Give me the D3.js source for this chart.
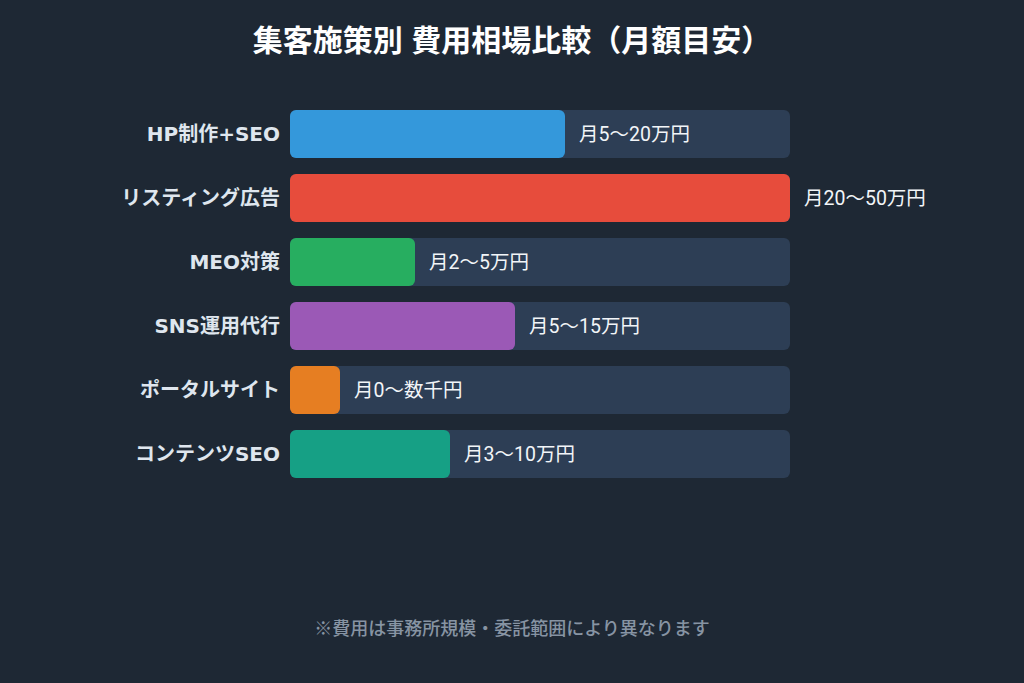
<!DOCTYPE html>
<html><head><meta charset="utf-8">
<script src="https://cdn.jsdelivr.net/npm/d3@7"></script>
<style>
html,body{margin:0;padding:0;background:#1e2834;}
svg{display:block;font-family:"Liberation Sans","Noto Sans CJK JP",sans-serif;}
</style></head><body>
<svg id="c" width="1024" height="683"></svg>
<script>
const categories = ["HP制作+SEO","リスティング広告","MEO対策","SNS運用代行","ポータルサイト","コンテンツSEO"];
const values = [55, 100, 25, 45, 10, 32];
const valueLabels = ["月5〜20万円","月20〜50万円","月2〜5万円","月5〜15万円","月0〜数千円","月3〜10万円"];
const colors = ["#3498db","#e74c3c","#27ae60","#9b59b6","#e67e22","#16a085"];
const title = "集客施策別 費用相場比較（月額目安）";
const note = "※費用は事務所規模・委託範囲により異なります";

const svg = d3.select("#c");
svg.append("rect").attr("width",1024).attr("height",683).attr("fill","#1e2834");

const x = d3.scaleLinear().domain([0,100]).range([290,790]);
const y = d3.scaleBand().domain(categories).range([102,486]).paddingInner(0.25).paddingOuter(0.125);

svg.append("text").attr("x",512).attr("y",51).attr("text-anchor","middle")
  .attr("fill","#ffffff").attr("font-size",30).attr("font-weight",700).text(title);

const rows = svg.append("g").selectAll("g.row").data(categories).join("g").attr("class","row");

rows.append("rect").attr("x",x(0)).attr("y",d=>y(d)).attr("width",x(100)-x(0))
  .attr("height",y.bandwidth()).attr("rx",6).attr("fill","#2d3e55");
rows.append("rect").attr("x",x(0)).attr("y",d=>y(d)).attr("width",(d,i)=>x(values[i])-x(0))
  .attr("height",y.bandwidth()).attr("rx",6).attr("fill",(d,i)=>colors[i]);
rows.append("text").attr("x",280).attr("y",d=>y(d)+y.bandwidth()/2).attr("dy","0.35em")
  .attr("text-anchor","end").attr("fill","#dfe6ee").attr("font-size",20).attr("font-weight",700)
  .style("font-family","'DejaVu Sans','Noto Sans CJK JP',sans-serif")
  .text(d=>d);
rows.append("text").attr("x",(d,i)=>x(values[i])+14).attr("y",d=>y(d)+y.bandwidth()/2).attr("dy","0.35em")
  .attr("fill","#f2f5f8").attr("font-size",19.5).attr("font-weight",400)
  .style("font-family","Roboto,'Noto Sans CJK JP',sans-serif")
  .text((d,i)=>valueLabels[i]);

svg.append("text").attr("x",512).attr("y",635).attr("text-anchor","middle")
  .attr("fill","#8794a3").attr("font-size",18).attr("font-weight",500).text(note);
</script></body></html>
